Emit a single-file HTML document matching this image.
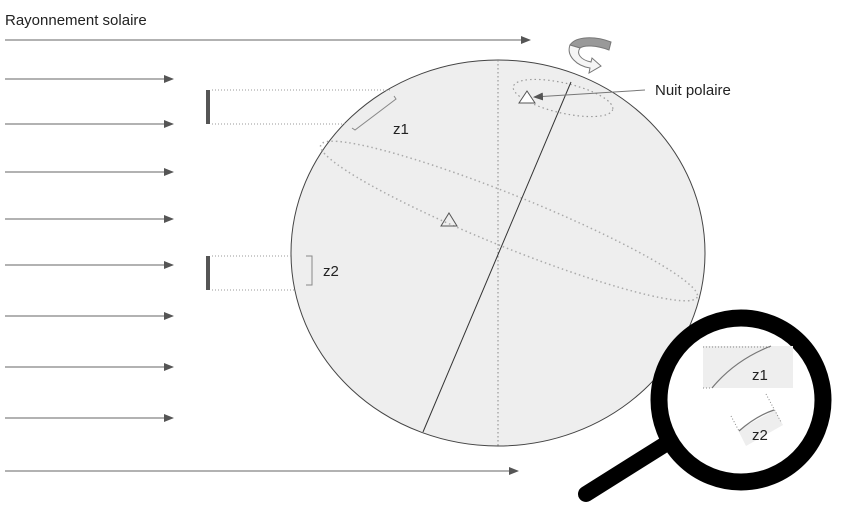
<!DOCTYPE html>
<html><head><meta charset="utf-8"><style>
body{margin:0;background:#fff}
svg{display:block;font-family:"Liberation Sans",sans-serif}
</style></head><body>
<svg width="848" height="513" viewBox="0 0 848 513">
<defs>
<marker id="ah" markerWidth="10" markerHeight="8" refX="9" refY="4" orient="auto" markerUnits="userSpaceOnUse">
<path d="M0,0 L10,4 L0,8 Z" fill="#555"/></marker>
</defs>
<text x="5" y="25" font-size="15" fill="#222">Rayonnement solaire</text>
<g stroke="#666" stroke-width="1" marker-end="url(#ah)">
<line x1="5" y1="40" x2="530" y2="40"/>
<line x1="5" y1="79" x2="173" y2="79"/>
<line x1="5" y1="124" x2="173" y2="124"/>
<line x1="5" y1="172" x2="173" y2="172"/>
<line x1="5" y1="219" x2="173" y2="219"/>
<line x1="5" y1="265" x2="173" y2="265"/>
<line x1="5" y1="316" x2="173" y2="316"/>
<line x1="5" y1="367" x2="173" y2="367"/>
<line x1="5" y1="418" x2="173" y2="418"/>
<line x1="5" y1="471" x2="518" y2="471"/>
</g>
<ellipse cx="498" cy="253" rx="207" ry="193" fill="#eee" stroke="#444" stroke-width="1"/>
<line x1="498" y1="60" x2="498" y2="446" stroke="#888" stroke-dasharray="1.5,2.5"/>
<ellipse cx="509" cy="221" rx="203" ry="26" transform="rotate(22 509 221)" fill="none" stroke="#aaa" stroke-width="1.5" stroke-dasharray="1.5,3"/>
<ellipse cx="563" cy="98" rx="51" ry="15" transform="rotate(13 563 98)" fill="none" stroke="#999" stroke-width="1.2" stroke-dasharray="1.5,3"/>
<line x1="571" y1="82" x2="423" y2="432" stroke="#333" stroke-width="1"/>
<path d="M527,91 L535,103 L519,103 Z" fill="#fff" stroke="#555"/>
<path d="M449,213 L457,226 L441,226 Z" fill="none" stroke="#555"/>
<line x1="645" y1="90" x2="534" y2="97" stroke="#777" marker-end="url(#ah)"/>
<text x="655" y="95" font-size="15" fill="#222">Nuit polaire</text>
<g>
<path d="M570,45 C576,36 595,36 611,42 L609,50 C596,45 584,45 580,48 Z" fill="#999" stroke="#777"/>
<path d="M570,45 C566,56 577,66 590,68 L589,73 L601,66 L592,58 L591,62 C581,60 576,54 580,48 Z" fill="#f5f5f5" stroke="#777"/>
</g>
<g>
<rect x="206" y="90" width="4" height="34" fill="#555"/>
<line x1="212" y1="90" x2="390" y2="90" stroke="#999" stroke-dasharray="1,2"/>
<line x1="212" y1="124" x2="346" y2="124" stroke="#999" stroke-dasharray="1,2"/>
<path d="M394,96 L396,99 L355,130 L352,128" fill="none" stroke="#888"/>
<text x="393" y="134" font-size="15" fill="#222">z1</text>
</g>
<g>
<rect x="206" y="256" width="4" height="34" fill="#555"/>
<line x1="212" y1="256" x2="292" y2="256" stroke="#999" stroke-dasharray="1,2"/>
<line x1="212" y1="290" x2="294" y2="290" stroke="#999" stroke-dasharray="1,2"/>
<path d="M306,256 L312,256 L312,285 L306,285" fill="none" stroke="#888"/>
<text x="323" y="276" font-size="15" fill="#222">z2</text>
</g>
<g>
<line x1="586" y1="494" x2="672" y2="440" stroke="#000" stroke-width="16" stroke-linecap="round"/>
<circle cx="741" cy="400" r="82" fill="#fff" stroke="#000" stroke-width="17"/>
<rect x="703" y="346" width="90" height="42" fill="#eee"/>
<line x1="703" y1="347" x2="770" y2="347" stroke="#888" stroke-dasharray="1,2"/>
<line x1="703" y1="388" x2="712" y2="388" stroke="#888" stroke-dasharray="1,2"/>
<path d="M712,388 Q735,360 771,346" fill="none" stroke="#777" stroke-width="1.2"/>
<text x="752" y="380" font-size="15" fill="#222">z1</text>
<path d="M738,430 L775,410 L783,425 L746,446 Z" fill="#eee"/>
<line x1="731" y1="416" x2="739" y2="431" stroke="#888" stroke-dasharray="1,2"/>
<line x1="766" y1="394" x2="781" y2="422" stroke="#888" stroke-dasharray="1,2"/>
<path d="M739,431 Q756,416 774,410" fill="none" stroke="#777" stroke-width="1.2"/>
<text x="752" y="440" font-size="15" fill="#222">z2</text>
</g>
</svg>
</body></html>
